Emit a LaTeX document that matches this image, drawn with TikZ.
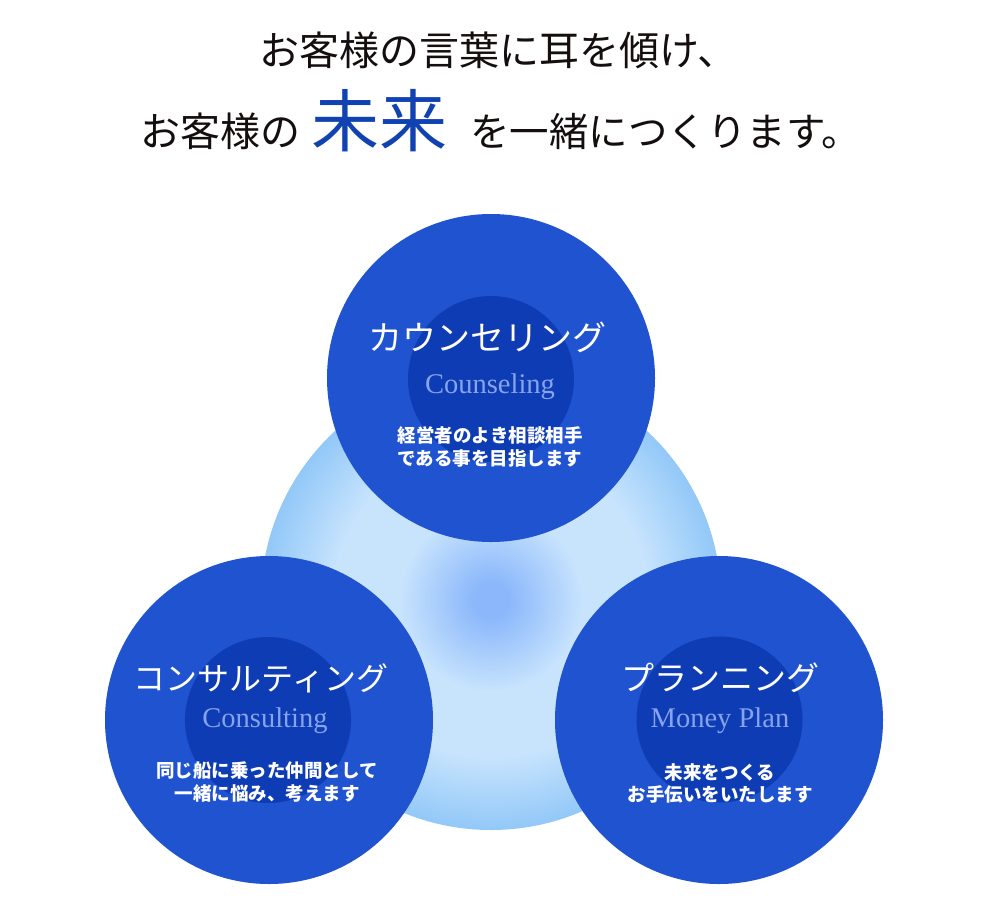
\documentclass[tikz,border=0pt]{standalone}
\usepackage{fontspec}
\setmainfont{Liberation Serif}
\newfontfamily\jp{Noto Sans CJK JP}
\definecolor{outerblue}{RGB}{31,83,208}
\definecolor{innerblue}{RGB}{14,60,181}
\definecolor{engblue}{RGB}{134,163,236}
\definecolor{mirai}{RGB}{16,66,178}
\definecolor{inkc}{RGB}{20,14,14}
\definecolor{glowc}{RGB}{140,184,251}
\definecolor{glowl}{RGB}{200,228,253}
\definecolor{glowe}{RGB}{146,200,248}
\pgfdeclareradialshading{glow}{\pgfpoint{0bp}{0bp}}{color(0bp)=(glowc); color(2bp)=(glowc); color(10bp)=(glowl); color(17bp)=(glowl); color(25bp)=(glowe); color(50bp)=(glowe)}
\begin{document}
\begin{tikzpicture}[x=1pt,y=-1pt,
 bigdisc/.style={circle, fill=outerblue, minimum size=328pt, inner sep=0},
 core/.style={circle, fill=innerblue, minimum size=166pt, inner sep=0},
 ttl/.style={anchor=base, inner sep=0, text=white},
 eng/.style={anchor=base, inner sep=0, text=engblue, font=\fontsize{28.5}{30}\selectfont},
 desc/.style={anchor=base, inner sep=0, text=white, font=\jp\bfseries\fontsize{18.5}{23}\selectfont},
 head/.style={inner sep=0, text=inkc}]
\useasboundingbox (0,0) rectangle (1000,900);
\fill[white] (0,0) rectangle (1000,900);

\node[circle, minimum size=460pt, inner sep=0, shading=glow] (glow) at (491,600) {};

\node[bigdisc] (topc) at (491,378) {};
\node[core] (topcore) at (491,379) {};
\node[bigdisc] (leftc) at (269,720) {};
\node[core] (leftcore) at (268,720) {};
\node[bigdisc] (rightc) at (719,720) {};
\node[core] (rightcore) at (719.5,719.5) {};

\node[head, anchor=base, font=\jp\fontsize{40}{40}\selectfont] (l1) at (498,65) {お客様の言葉に耳を傾け、};
\node[head, anchor=base west, font=\jp\fontsize{40}{40}\selectfont] (l2a) at (140,146) {お客様の};
\node[anchor=base west, inner sep=0, text=mirai, font=\jp\fontsize{68}{68}\selectfont] (l2b) at (311,146) {未来};
\node[head, anchor=base west, font=\jp\fontsize{39.5}{40}\selectfont] (l2c) at (470,146) {を一緒につくります。};

\node[ttl, font=\jp\fontsize{34}{34}\selectfont] (t1) at (487,350) {カウンセリング};
\node[ttl, font=\jp\fontsize{32}{32}\selectfont] (t2) at (261,690) {コンサルティング};
\node[ttl, font=\jp\fontsize{33}{33}\selectfont] (t3) at (720,690) {プランニング};

\node[eng] (e1) at (490,393) {Counseling};
\node[eng] (e2) at (265,727) {Consulting};
\node[eng] (e3) at (720,727) {Money Plan};

\node[desc] (d1a) at (490,442) {経営者のよき相談相手};
\node[desc] (d1b) at (490,465) {である事を目指します};
\node[desc] (d2a) at (267,777) {同じ船に乗った仲間として};
\node[desc] (d2b) at (267,800) {一緒に悩み、考えます};
\node[desc] (d3a) at (720,779) {未来をつくる};
\node[desc] (d3b) at (720,801) {お手伝いをいたします};
\end{tikzpicture}
\end{document}
